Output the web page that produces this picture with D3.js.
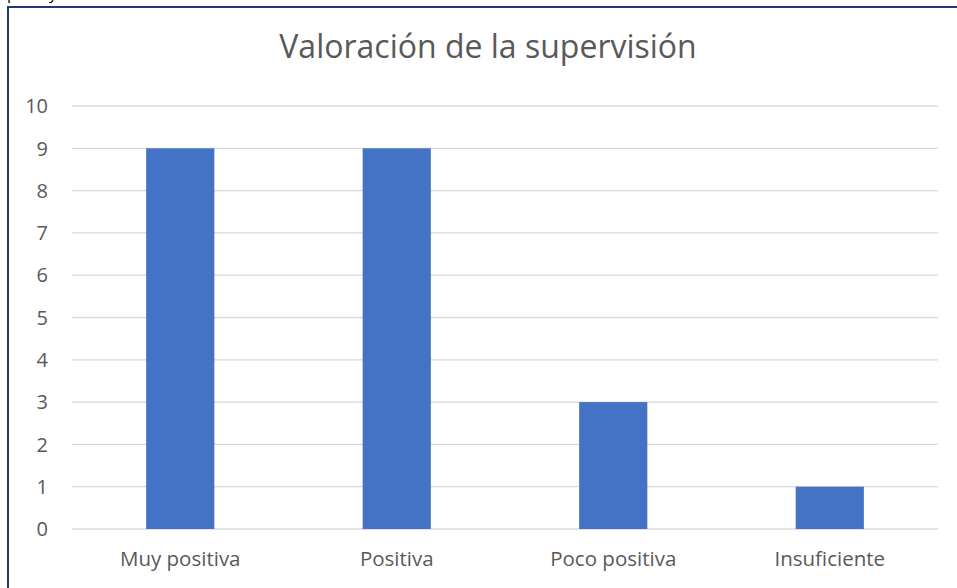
<!DOCTYPE html>
<html>
<head>
<meta charset="utf-8">
<script src="https://cdn.jsdelivr.net/npm/d3@7"></script>
<style>
  body { margin: 0; background: #fff; }
  svg { display: block; font-family: "Open Sans", "Liberation Sans", sans-serif; }
</style>
</head>
<body>
<div id="chart"></div>
<script>
// data
var categories = ["Muy positiva", "Positiva", "Poco positiva", "Insuficiente"];
var values = [9, 9, 3, 1];
var yTicks = [0, 1, 2, 3, 4, 5, 6, 7, 8, 9, 10];
var title = "Valoración de la supervisión";

var W = 957, H = 588;
var plot = { left: 72, right: 938, top: 106, bottom: 529 };

var svg = d3.select("#chart").append("svg")
  .attr("width", W)
  .attr("height", H);

// cut off text above the frame (only descenders visible)
svg.append("text").attr("x", 7).attr("y", -1).attr("font-size", 16).attr("fill", "#000").text("p");
svg.append("text").attr("x", 49).attr("y", -1).attr("font-size", 16).attr("fill", "#000").text("y");

// frame
svg.append("rect")
  .attr("x", 8).attr("y", 7)
  .attr("width", W + 10).attr("height", H + 10)
  .attr("fill", "#fff")
  .attr("stroke", "#1F3B73")
  .attr("stroke-width", 2);

var x = d3.scaleBand().domain(categories).range([plot.left, plot.right]).padding(0);
var y = d3.scaleLinear().domain([0, 10]).range([plot.bottom, plot.top]);

// gridlines
svg.append("g")
  .selectAll("line")
  .data(yTicks)
  .enter().append("line")
  .attr("x1", plot.left).attr("x2", plot.right)
  .attr("y1", function (d) { return y(d); })
  .attr("y2", function (d) { return y(d); })
  .attr("stroke", "#D9D9D9")
  .attr("stroke-width", 1.3);

// y labels
svg.append("g")
  .selectAll("text")
  .data(yTicks)
  .enter().append("text")
  .attr("x", 48)
  .attr("y", function (d) { return y(d); })
  .attr("dy", "0.36em")
  .attr("text-anchor", "end")
  .attr("font-size", 20)
  .attr("fill", "#595959")
  .text(function (d) { return d; });

// bars
var barW = x.bandwidth() * 0.315;
svg.append("g")
  .selectAll("rect")
  .data(values)
  .enter().append("rect")
  .attr("x", function (d, i) { return x(categories[i]) + (x.bandwidth() - barW) / 2; })
  .attr("y", function (d) { return y(d); })
  .attr("width", barW)
  .attr("height", function (d) { return y(0) - y(d); })
  .attr("fill", "#4472C4");

// x labels
svg.append("g")
  .selectAll("text")
  .data(categories)
  .enter().append("text")
  .attr("x", function (d) { return x(d) + x.bandwidth() / 2; })
  .attr("y", 566)
  .attr("text-anchor", "middle")
  .attr("font-size", 20.5)
  .attr("fill", "#595959")
  .text(function (d) { return d; });

// title
svg.append("text")
  .attr("x", 488)
  .attr("y", 58)
  .attr("text-anchor", "middle")
  .attr("font-size", 32)
  .attr("fill", "#595959")
  .text(title);
</script>
</body>
</html>
